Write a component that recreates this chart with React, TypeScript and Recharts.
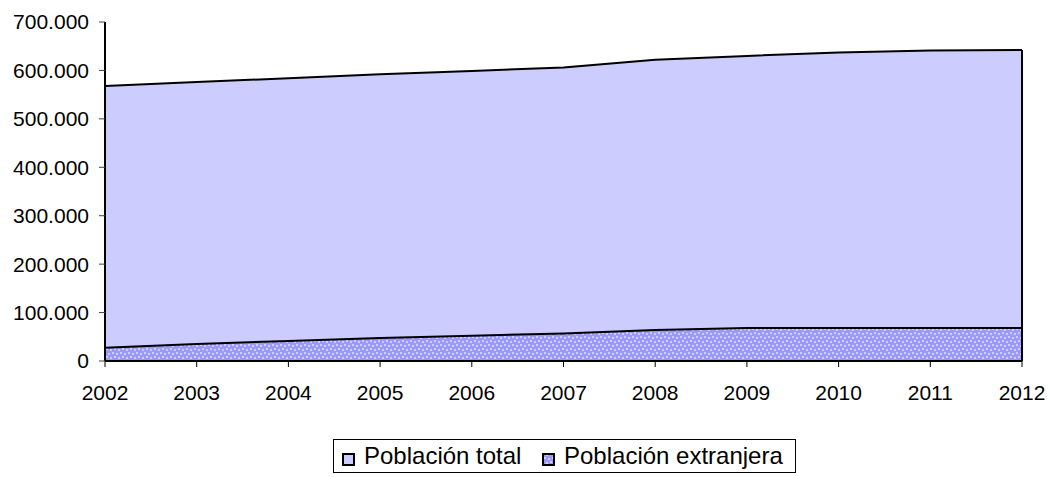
import React from 'react';
import { AreaChart, Area, XAxis, YAxis, ReferenceLine } from 'recharts';

const years = ['2002', '2003', '2004', '2005', '2006', '2007', '2008', '2009', '2010', '2011', '2012'];
const totalPop = [568000, 576000, 584000, 592000, 599000, 606000, 622000, 630000, 637000, 641000, 642000];
const foreignPop = [27500, 35000, 41500, 47500, 52000, 57000, 64000, 68000, 68000, 68000, 68000];
const yTicks = [0, 100000, 200000, 300000, 400000, 500000, 600000, 700000];
const seriesNames = ['Población total', 'Población extranjera'];

const data = years.map((y, i) => ({ year: y, total: totalPop[i], foreign: foreignPop[i] }));

const FONT = '"Liberation Sans", Arial, sans-serif';

const fmt = (v: number) => {
  if (v === 0) return '0';
  const s = String(Math.round(v));
  return s.replace(/\B(?=(\d{3})+(?!\d))/g, '.');
};

export default function App() {
  const first = years[0];
  const last = years[years.length - 1];
  return (
    <div style={{ position: 'absolute', left: 0, top: 0, width: 1050, height: 477, background: '#fff', fontFamily: FONT }}>
      <AreaChart width={1050} height={477} data={data} margin={{ top: 22, right: 28, bottom: 0, left: 0 }}>
        <defs>
          <pattern id="dots" width="8" height="8" patternUnits="userSpaceOnUse">
            <rect width="8" height="8" fill="#9999FF" />
            <rect x="0" y="0" width="2" height="2" fill="#CFCFFF" />
            <rect x="4" y="1" width="2" height="2" fill="#CFCFFF" />
            <rect x="2" y="4" width="2" height="2" fill="#CFCFFF" />
            <rect x="6" y="5" width="2" height="2" fill="#CFCFFF" />
          </pattern>
        </defs>
        <XAxis
          dataKey="year"
          height={116}
          tickSize={6}
          tickMargin={18}
          axisLine={{ stroke: '#000', strokeWidth: 2 }}
          tickLine={{ stroke: '#000' }}
          tick={{ fill: '#000', fontSize: 21, fontFamily: FONT }}
          interval={0}
        />
        <XAxis xAxisId="top" orientation="top" dataKey="year" height={0} tick={false} tickLine={false} axisLine={{ stroke: '#808080', strokeWidth: 2 }} />
        <YAxis
          width={105}
          domain={[0, 700000]}
          ticks={yTicks}
          tickFormatter={fmt}
          tickSize={6}
          tickMargin={10}
          axisLine={{ stroke: '#000', strokeWidth: 2 }}
          tickLine={{ stroke: '#404040' }}
          tick={{ fill: '#000', fontSize: 21, fontFamily: FONT }}
          interval={0}
        />
        <YAxis yAxisId="right" orientation="right" width={0} domain={[0, 700000]} tick={false} tickLine={false} axisLine={{ stroke: '#808080', strokeWidth: 2 }} />
        <Area
          type="linear"
          dataKey="total"
          name={seriesNames[0]}
          fill="#CCCCFF"
          fillOpacity={1}
          stroke="#000"
          strokeWidth={2}
          isAnimationActive={false}
          dot={false}
          activeDot={false}
        />
        <Area
          type="linear"
          dataKey="foreign"
          name={seriesNames[1]}
          fill="url(#dots)"
          fillOpacity={1}
          stroke="#000"
          strokeWidth={2}
          isAnimationActive={false}
          dot={false}
          activeDot={false}
        />
        <ReferenceLine segment={[{ x: last, y: 0 }, { x: last, y: totalPop[totalPop.length - 1] }]} stroke="#000" strokeWidth={2} />
        <ReferenceLine segment={[{ x: first, y: 0 }, { x: first, y: totalPop[0] }]} stroke="#000" strokeWidth={2} />
      </AreaChart>
      <div
        style={{
          position: 'absolute',
          left: 333,
          top: 439,
          width: 463,
          height: 34,
          border: '1px solid #000',
          boxSizing: 'border-box',
          fontSize: 24,
          fontFamily: FONT,
          color: '#000',
        }}
      >
        <div style={{ position: 'absolute', left: 8, top: 13, width: 13, height: 13, boxSizing: 'border-box', border: '2px solid #000', background: '#CCCCFF' }} />
        <span style={{ position: 'absolute', left: 30, top: 2, lineHeight: '28px', whiteSpace: 'nowrap' }}>{seriesNames[0]}</span>
        <svg style={{ position: 'absolute', left: 208, top: 13 }} width={13} height={13}>
          <rect x={1} y={1} width={11} height={11} fill="url(#dots)" stroke="#000" strokeWidth={2} />
        </svg>
        <span style={{ position: 'absolute', left: 230, top: 2, lineHeight: '28px', whiteSpace: 'nowrap' }}>{seriesNames[1]}</span>
      </div>
    </div>
  );
}
